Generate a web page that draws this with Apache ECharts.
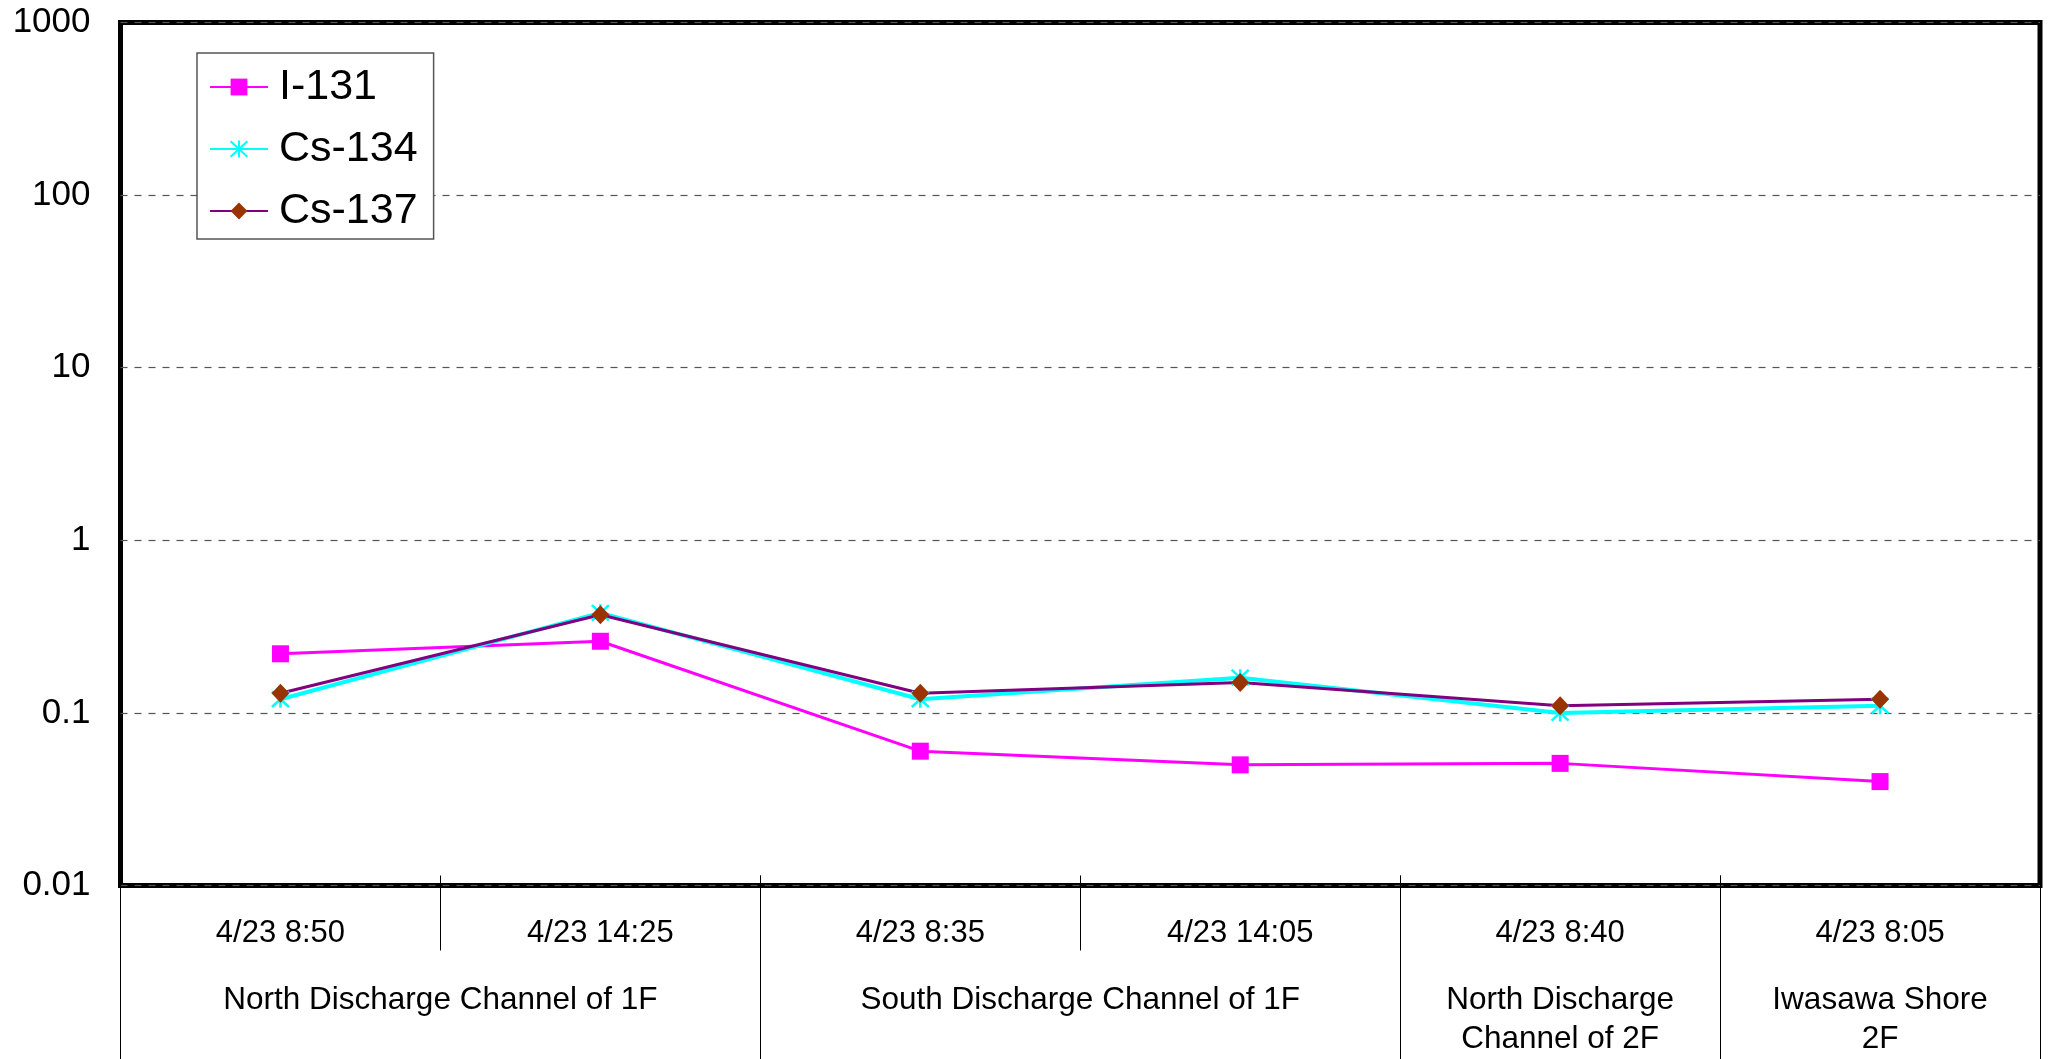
<!DOCTYPE html>
<html>
<head>
<meta charset="utf-8">
<script src="https://cdn.jsdelivr.net/npm/echarts@6/dist/echarts.min.js"></script>
<style>
html,body{margin:0;padding:0;background:#fff;}
#c{width:2049px;height:1059px;}
</style>
</head>
<body>
<div id="c"></div>
<script>
// ---- data ----
const dates = ['4/23 8:50', '4/23 14:25', '4/23 8:35', '4/23 14:05', '4/23 8:40', '4/23 8:05'];
const groupNames = ['North Discharge Channel of 1F', 'South Discharge Channel of 1F', 'North Discharge\nChannel of 2F', 'Iwasawa Shore\n2F'];
const groupSpans = [2, 2, 1, 1];
const i131 = [0.22, 0.26, 0.06, 0.05, 0.051, 0.04];
const cs134 = [0.12, 0.38, 0.12, 0.16, 0.10, 0.11];
const cs137 = [0.13, 0.37, 0.13, 0.15, 0.11, 0.12];
const yTickLabels = ['0.01', '0.1', '1', '10', '100', '1000'];

// ---- derived group axis positions ----
const groupBounds = [0];
groupSpans.forEach(s => groupBounds.push(groupBounds[groupBounds.length - 1] + s));
const groupCenters = groupSpans.map((s, i) => groupBounds[i] + s / 2);
const total = groupBounds[groupBounds.length - 1];

const FONT = '"Liberation Sans", Arial, sans-serif';
const asterisk = 'path://M0 0L20 20M20 0L0 20M10 -1L10 21';

const chart = echarts.init(document.getElementById('c'), null, {renderer: 'canvas'});
chart.setOption({
  backgroundColor: '#fff',
  animation: false,
  grid: {
    left: 120.5, right: 9, top: 22.5, bottom: 173.5,
    show: true, borderColor: '#000', borderWidth: 5, backgroundColor: 'transparent'
  },
  legend: {
    orient: 'vertical',
    left: 197, top: 53,
    padding: [12, 16, 6, 12],
    itemWidth: 58, itemHeight: 21, itemGap: 18,
    backgroundColor: '#fff',
    borderColor: '#555', borderWidth: 1.5, borderRadius: 0,
    textStyle: {fontFamily: FONT, fontSize: 43, color: '#000', lineHeight: 44, padding: [0, 0, 0, 6]},
    data: ['I-131', 'Cs-134', 'Cs-137']
  },
  xAxis: [
    {
      type: 'category',
      data: dates,
      boundaryGap: true,
      position: 'bottom',
      offset: -10,
      axisLine: {show: false},
      axisTick: {show: true, length: 75, lineStyle: {color: '#000', width: 1}},
      axisLabel: {fontFamily: FONT, fontSize: 31, color: '#000', margin: 57.5, verticalAlign: 'middle', interval: 0},
      splitLine: {show: false}
    },
    {
      type: 'value',
      min: 0, max: total,
      position: 'bottom',
      offset: -10,
      axisLine: {show: false},
      axisTick: {show: true, length: 183.5, customValues: groupBounds, lineStyle: {color: '#000', width: 1}},
      axisLabel: {
        fontFamily: FONT, fontSize: 31.5, color: '#000', margin: 105,
        verticalAlign: 'top', lineHeight: 39, align: 'center',
        customValues: groupCenters,
        showMinLabel: true, showMaxLabel: true,
        hideOverlap: false,
        formatter: function (v) {
          const i = groupCenters.findIndex(c => Math.abs(c - v) < 1e-6);
          return i >= 0 ? groupNames[i] : '';
        }
      },
      splitLine: {show: false}
    }
  ],
  yAxis: {
    type: 'log',
    logBase: 10,
    min: 0.01, max: 1000,
    axisLine: {show: false},
    axisTick: {show: false},
    axisLabel: {
      fontFamily: FONT, fontSize: 35, color: '#000', margin: 30,
      formatter: function (v) {
        const k = Math.round(Math.log10(v)) + 2;
        return yTickLabels[k] !== undefined ? yTickLabels[k] : '';
      }
    },
    splitLine: {show: true, lineStyle: {color: '#555', width: 1.2, type: [7, 7]}}
  },
  series: [
    {
      name: 'I-131', type: 'line', data: i131, xAxisIndex: 0,
      symbol: 'rect', symbolSize: 17,
      lineStyle: {color: '#FF00FF', width: 3},
      itemStyle: {color: '#FF00FF'}
    },
    {
      name: 'Cs-134', type: 'line', data: cs134, xAxisIndex: 0,
      symbol: asterisk, symbolSize: 17,
      lineStyle: {color: '#00FFFF', width: 4},
      itemStyle: {color: 'rgba(0,0,0,0)', borderColor: '#00FFFF', borderWidth: 2.5}
    },
    {
      name: 'Cs-137', type: 'line', data: cs137, xAxisIndex: 0,
      symbol: 'diamond', symbolSize: [18, 19],
      lineStyle: {color: '#800080', width: 3},
      itemStyle: {color: '#993300'}
    }
  ]
});
</script>
</body>
</html>
